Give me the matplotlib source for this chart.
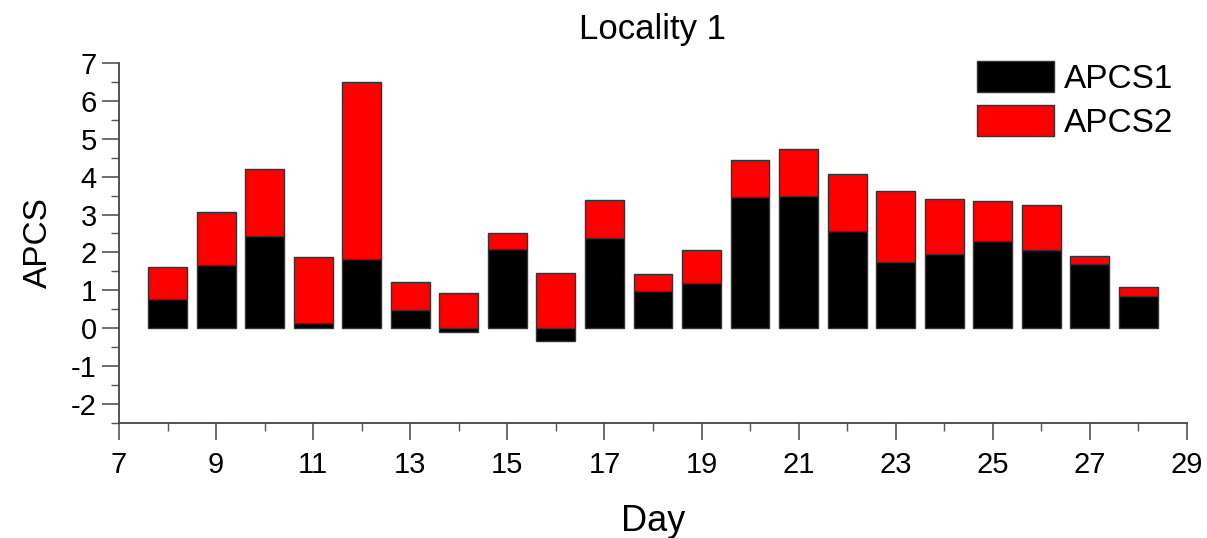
import matplotlib.pyplot as plt
from matplotlib.ticker import MultipleLocator
import numpy as np

plt.rcParams['font.family'] = ['Liberation Sans', 'DejaVu Sans']
plt.rcParams['axes.unicode_minus'] = False

days = list(range(8, 29))
# APCS1 (black) and top of the stacked bar (red top)
apcs1 = [0.77, 1.67, 2.44, 0.15, 1.82, 0.48, -0.09, 2.09, -0.33, 2.39, 0.99,
         1.19, 3.45, 3.50, 2.57, 1.76, 1.97, 2.30, 2.06, 1.70, 0.85]
total = [1.61, 3.07, 4.19, 1.88, 6.51, 1.21, 0.92, 2.50, 1.46, 3.38, 1.43,
         2.07, 4.45, 4.74, 4.08, 3.63, 3.42, 3.36, 3.26, 1.91, 1.09]

a1 = np.array(apcs1)
base = np.clip(a1, 0, None)
apcs2 = np.array(total) - base

fig = plt.figure(figsize=(12.07, 5.38), dpi=100)
ax = fig.add_axes([0.0986, 0.2138, 0.8848, 0.6692])

ax.bar(days, apcs1, width=0.8, color='black', edgecolor='#333333', linewidth=1, label='APCS1')
ax.bar(days, apcs2, width=0.8, bottom=base, color='#ff0000', edgecolor='#333333', linewidth=1, label='APCS2')

ax.set_xlim(7, 29)
ax.set_ylim(-2.5, 7)
ax.xaxis.set_major_locator(MultipleLocator(2, offset=1))
ax.xaxis.set_minor_locator(MultipleLocator(1))
ax.yaxis.set_major_locator(MultipleLocator(1))
ax.yaxis.set_minor_locator(MultipleLocator(0.5))

for s in ['top', 'right']:
    ax.spines[s].set_visible(False)
for s in ['left', 'bottom']:
    ax.spines[s].set_linewidth(1.3)
    ax.spines[s].set_color('#444444')

ax.tick_params(which='major', direction='out', length=12, width=1.2, color='#555555', labelsize=21)
ax.tick_params(which='minor', direction='out', length=6, width=1.0, color='#555555')
ax.tick_params(axis='x', pad=8)
ax.tick_params(axis='y', pad=4)

ax.set_xlabel('Day', fontsize=26, labelpad=18)
ax.set_ylabel('APCS', fontsize=24, labelpad=12)
ax.set_title('Locality 1', fontsize=25, pad=17)

ax.legend(loc='upper right', bbox_to_anchor=(1.006, 1.06), frameon=False, fontsize=24,
          handlelength=2.3, handleheight=1.05, handletextpad=0.3, labelspacing=0.3,
          borderaxespad=0.2)

fig.savefig('out.png', dpi=100)
